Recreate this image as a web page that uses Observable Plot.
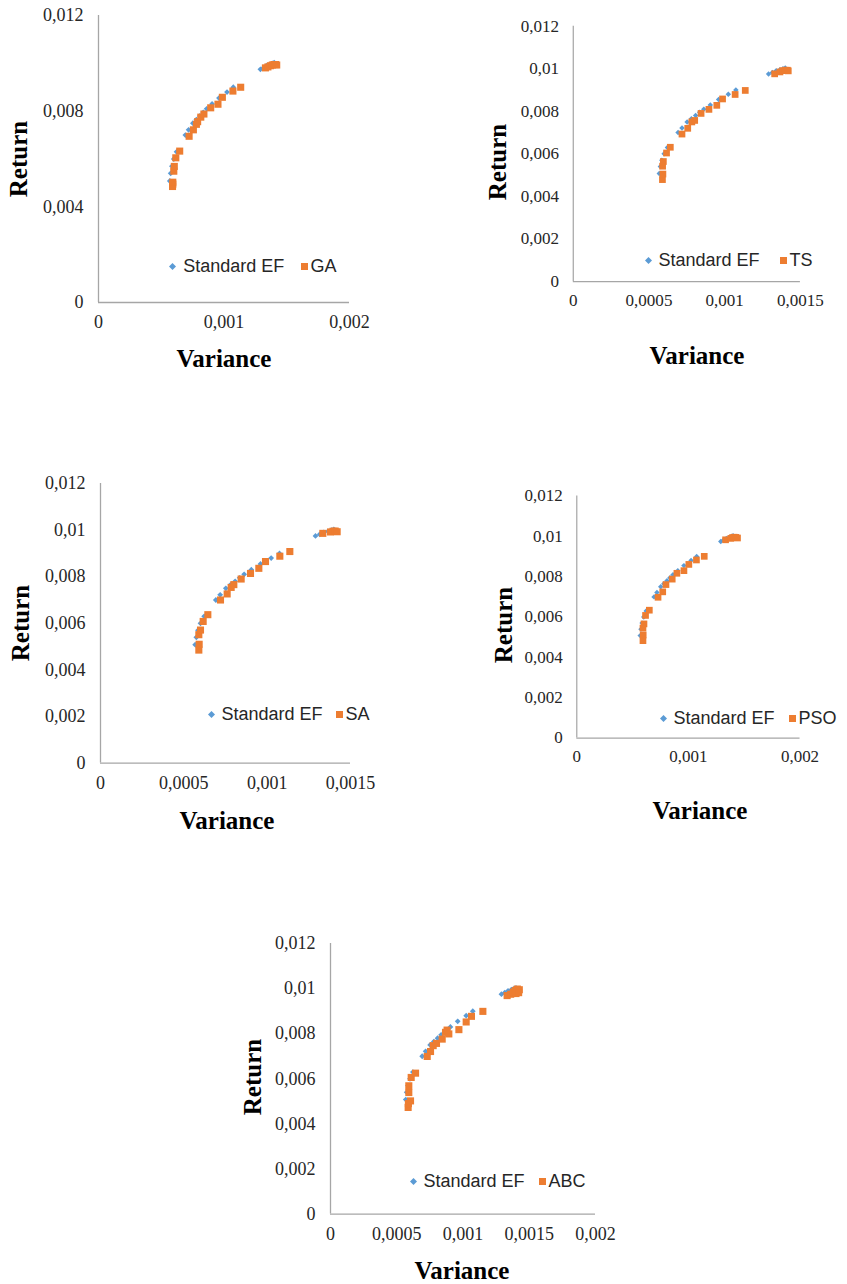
<!DOCTYPE html>
<html><head><meta charset="utf-8">
<script src="https://cdn.jsdelivr.net/npm/d3@7"></script>
<script src="https://cdn.jsdelivr.net/npm/@observablehq/plot@0.6"></script>
<style>
html,body{margin:0;padding:0;background:#fff;}
#page{position:relative;width:847px;height:1284px;overflow:hidden;background:#fff;}
.panel{position:absolute;}
.panel svg{overflow:visible;}
.panel svg text{font-family:"Liberation Serif","Times New Roman",serif;font-size:18px;fill:#262626;}
.ytitle,.xtitle{position:absolute;font-family:"Liberation Serif","Times New Roman",serif;font-weight:bold;font-size:25px;color:#000;white-space:nowrap;line-height:1;}
.ytitle{transform:translate(-50%,-50%) rotate(-90deg);}
.xtitle{transform:translate(-50%,-50%);}
.leg{position:absolute;font-family:"Liberation Sans",Arial,sans-serif;font-size:18px;color:#262626;white-space:nowrap;line-height:1;transform:translateY(-50%);}
.sym{position:absolute;width:7px;height:7px;line-height:0;}
.sym svg{display:block;}
</style></head><body><div id="page"></div>
<script>
// ---- Data (variance, return) ----
const efVar = [0.000568, 0.000575, 0.000585, 0.000600, 0.000622, 0.000692, 0.000718, 0.000752, 0.000780, 0.000808, 0.000835, 0.000862, 0.000905, 0.000960, 0.001024, 0.001074, 0.001290, 0.001315, 0.001340, 0.001365, 0.001385, 0.001400];
const efRet = [0.00508, 0.00540, 0.00570, 0.00600, 0.00630, 0.00700, 0.00722, 0.00750, 0.00765, 0.00780, 0.00795, 0.00810, 0.00830, 0.00855, 0.00880, 0.00900, 0.00975, 0.00982, 0.00990, 0.00995, 0.01000, 0.01003];

const gaVar = [0.000590, 0.000592, 0.000592, 0.000600, 0.000604, 0.000616, 0.000647, 0.000722, 0.000756, 0.000780, 0.000790, 0.000815, 0.000840, 0.000894, 0.000952, 0.000987, 0.001071, 0.001133, 0.001330, 0.001350, 0.001370, 0.001385, 0.001398, 0.001410, 0.001420];
const gaRet = [0.00485, 0.00495, 0.00503, 0.00549, 0.00569, 0.00605, 0.00633, 0.00695, 0.00722, 0.00745, 0.00756, 0.00775, 0.00788, 0.00814, 0.00829, 0.00858, 0.00884, 0.00900, 0.00981, 0.00985, 0.00990, 0.00993, 0.00995, 0.00995, 0.00993];

const tsVar = [0.000589, 0.000592, 0.000590, 0.000595, 0.000616, 0.000641, 0.000718, 0.000756, 0.000783, 0.000802, 0.000844, 0.000896, 0.000948, 0.000986, 0.001069, 0.001136, 0.001330, 0.001365, 0.001383, 0.001400, 0.001414, 0.001420];
const tsRet = [0.00479, 0.00505, 0.00542, 0.00564, 0.00604, 0.00631, 0.00693, 0.00720, 0.00750, 0.00757, 0.00790, 0.00809, 0.00828, 0.00858, 0.00879, 0.00898, 0.00976, 0.00985, 0.00991, 0.00993, 0.00993, 0.00990];

const saVar = [0.000590, 0.000592, 0.000590, 0.000600, 0.000616, 0.000644, 0.000720, 0.000760, 0.000784, 0.000800, 0.000844, 0.000900, 0.000950, 0.000990, 0.001076, 0.001136, 0.001334, 0.001380, 0.001395, 0.001408, 0.001420];
const saRet = [0.00485, 0.00510, 0.00551, 0.00571, 0.00608, 0.00637, 0.00700, 0.00726, 0.00754, 0.00766, 0.00790, 0.00814, 0.00836, 0.00865, 0.00888, 0.00908, 0.00986, 0.00992, 0.00995, 0.00996, 0.00993];

const psoVar = [0.000593, 0.000595, 0.000593, 0.000602, 0.000616, 0.000650, 0.000728, 0.000770, 0.000799, 0.000855, 0.000897, 0.000960, 0.001004, 0.001072, 0.001142, 0.001333, 0.001380, 0.001395, 0.001410, 0.001425, 0.001440];
const psoRet = [0.00483, 0.00511, 0.00545, 0.00566, 0.00608, 0.00634, 0.00698, 0.00725, 0.00761, 0.00788, 0.00817, 0.00830, 0.00861, 0.00883, 0.00901, 0.00983, 0.00990, 0.00994, 0.00996, 0.00995, 0.00992];

const abcVar = [0.000586, 0.000588, 0.000604, 0.000591, 0.000591, 0.000609, 0.000642, 0.000730, 0.000755, 0.000775, 0.000800, 0.000843, 0.000868, 0.000893, 0.000880, 0.000969, 0.001024, 0.001064, 0.001150, 0.001333, 0.001360, 0.001380, 0.001395, 0.001410, 0.001425, 0.001400, 0.001420];
const abcRet = [0.00473, 0.00490, 0.00502, 0.00539, 0.00569, 0.00606, 0.00625, 0.00699, 0.00721, 0.00747, 0.00757, 0.00776, 0.00806, 0.00799, 0.00816, 0.00818, 0.00852, 0.00877, 0.00899, 0.00969, 0.00975, 0.00985, 0.00992, 0.00998, 0.00995, 0.00978, 0.00982];

// ---- Tick labels ----
const yTicksCoarse = [0, 0.004, 0.008, 0.012];
const yTicksFine = [0, 0.002, 0.004, 0.006, 0.008, 0.01, 0.012];
const xTicks1000 = [0, 0.001, 0.002];
const xTicks1500 = [0, 0.0005, 0.001, 0.0015];
const xTicks2000 = [0, 0.0005, 0.001, 0.0015, 0.002];

const seriesNames = ["Standard EF", "GA", "TS", "SA", "PSO", "ABC"];
const BLUE = "#5B9BD5", ORANGE = "#ED7D31", AXIS = "#a6a6a6";

const fmt = d => d === 0 ? "0" : String(+d.toPrecision(6)).replace(".", ",");
const rows = (vs, rs) => vs.map((v, i) => ({v, r: rs[i]}));

const panels = [
  {name: "GA", v: gaVar, r: gaRet, xMax: 0.002, xTicks: xTicks1000, yTicks: yTicksCoarse,
   f: {x0: 97.5, x1: 348.5, yT: 15, yB: 302}, yt: [18, 159], xt: [224, 358], lg: [172.7, 266, 304]},
  {name: "TS", v: tsVar, r: tsRet, xMax: 0.0015, xTicks: xTicks1500, yTicks: yTicksFine,
   f: {x0: 577.7, x1: 817.3, yT: 27.3, yB: 296.7}, yt: [497, 162], xt: [697, 355], lg: [648, 260, 783]},
  {name: "SA", v: saVar, r: saRet, xMax: 0.0015, xTicks: xTicks1500, yTicks: yTicksFine,
   f: {x0: 100, x1: 350, yT: 482.7, yB: 762.3}, yt: [20, 623], xt: [227, 820], lg: [211, 714, 339]},
  {name: "PSO", v: psoVar, r: psoRet, xMax: 0.002, xTicks: xTicks1000, yTicks: yTicksFine,
   f: {x0: 582.3, x1: 819, yT: 496.7, yB: 753.3}, yt: [503, 625], xt: [700, 810], lg: [663, 718, 792]},
  {name: "ABC", v: abcVar, r: abcRet, xMax: 0.002, xTicks: xTicks2000, yTicks: yTicksFine,
   f: {x0: 330, x1: 595, yT: 942.7, yB: 1213.3}, yt: [252, 1077], xt: [462, 1270], lg: [413, 1181, 542]}
];

const page = document.getElementById("page");
const ef = rows(efVar, efRet);
const PL = 100, PT = 25, PR = 50, PB = 45;
const SERIF = '"Liberation Serif","Times New Roman",serif';

function addDiv(cls, x, y, html) {
  const d = document.createElement("div");
  d.className = cls; d.style.left = x + "px"; d.style.top = y + "px";
  d.innerHTML = html; page.appendChild(d); return d;
}

for (const p of panels) {
  const f = p.f;
  const W = (f.x1 - f.x0) + PL + PR, H = (f.yB - f.yT) + PT + PB;
  const chart = Plot.plot({
    width: W, height: H,
    marginLeft: PL, marginRight: PR, marginTop: PT, marginBottom: PB,
    style: {fontFamily: SERIF, fontSize: "18px", color: "#262626", background: "transparent", overflow: "visible"},
    x: {domain: [0, p.xMax]},
    y: {domain: [0, 0.012]},
    marks: [
      Plot.axisX({ticks: p.xTicks, tickSize: 0, tickPadding: 13, tickFormat: fmt, label: null, fontSize: 18, fontFamily: SERIF}),
      Plot.axisY({ticks: p.yTicks, tickSize: 0, tickPadding: 15, tickFormat: fmt, label: null, fontSize: 18, fontFamily: SERIF}),
      Plot.ruleX([0], {stroke: AXIS, strokeWidth: 1.3}),
      Plot.ruleY([0], {stroke: AXIS, strokeWidth: 1.3}),
      Plot.dot(ef, {x: "v", y: "r", symbol: "diamond2", r: 2.6, fill: BLUE, stroke: null}),
      Plot.dot(rows(p.v, p.r), {x: "v", y: "r", symbol: "square", r: 4, fill: ORANGE, stroke: null})
    ]
  });
  const box = document.createElement("div");
  box.className = "panel";
  box.style.left = (f.x0 - PL) + "px"; box.style.top = (f.yT - PT) + "px";
  box.appendChild(chart); page.appendChild(box);

  addDiv("ytitle", p.yt[0], p.yt[1], "Return");
  addDiv("xtitle", p.xt[0], p.xt[1], "Variance");

  const [dx, ly, sx] = p.lg;
  addDiv("sym", dx - 3.5, ly - 3.5, `<svg width="7" height="7"><path d="M3.5 0L7 3.5L3.5 7L0 3.5Z" fill="${BLUE}"/></svg>`);
  addDiv("leg", dx + 10.5, ly, seriesNames[0]);
  addDiv("sym", sx - 3.5, ly - 3.5, `<svg width="7" height="7"><rect width="7" height="7" fill="${ORANGE}"/></svg>`);
  addDiv("leg", sx + 6.5, ly, p.name);
}
</script></body></html>
